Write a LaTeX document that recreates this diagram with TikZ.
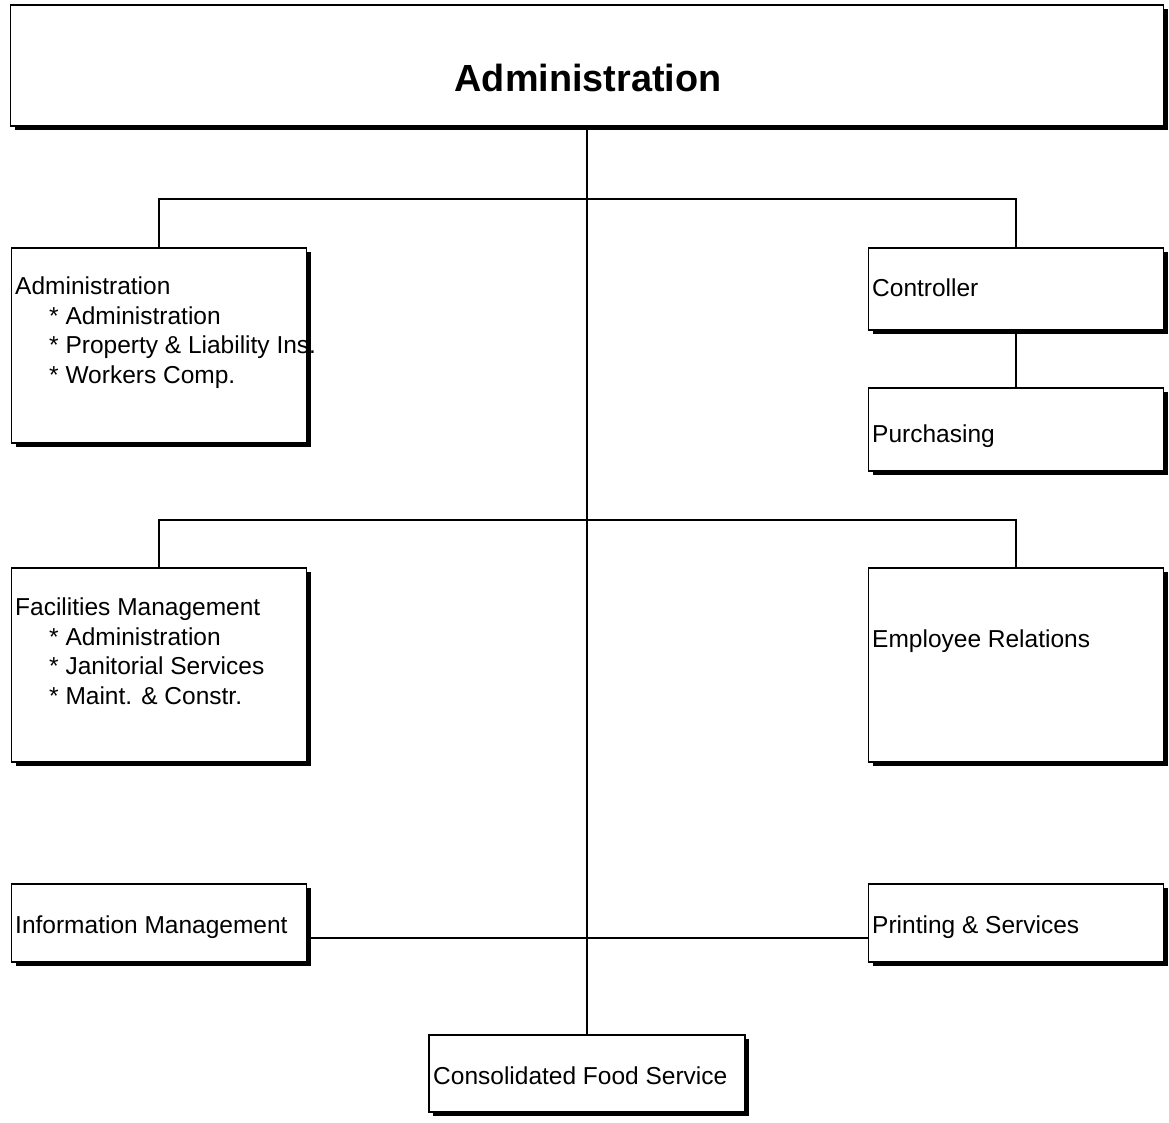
\documentclass[tikz,border=0pt]{standalone}
\usepackage{fontspec}
\setmainfont{Liberation Sans}
\usetikzlibrary{shadows}

\newcommand{\ind}{\hspace*{34pt}}

\tikzset{
  unit/.style={draw, fill=white, line width=1.8pt, inner sep=0pt,
    drop shadow={shadow xshift=4pt, shadow yshift=-4pt, fill=black, opacity=1}},
  txt/.style={inner sep=0pt, anchor=base west, align=left,
    font=\fontsize{24.5}{29.4}\selectfont},
  link/.style={line width=2.2pt}
}

\begin{document}
\begin{tikzpicture}[x=1pt, y=-1pt]
  \useasboundingbox (0,0) rectangle (1169,1122);

  % boxes
  \node[unit, minimum width=1153pt, minimum height=121pt] (top) at (587,65.5) {};
  \node[unit, minimum width=295pt, minimum height=195pt] (adm) at (159,345.5) {};
  \node[unit, minimum width=295pt, minimum height=82pt] (ctrl) at (1016,289) {};
  \node[unit, minimum width=295pt, minimum height=83pt] (purch) at (1016,429.5) {};
  \node[unit, minimum width=295pt, minimum height=194pt] (fac) at (159,665) {};
  \node[unit, minimum width=295pt, minimum height=194pt] (emp) at (1016,665) {};
  \node[unit, minimum width=295pt, minimum height=78pt] (info) at (159,923) {};
  \node[unit, minimum width=295pt, minimum height=78pt] (print) at (1016,923) {};
  \node[unit, minimum width=316pt, minimum height=77pt] (food) at (587,1073.5) {};

  % connectors
  \coordinate (j1) at (587,199);
  \coordinate (j2) at (587,520);
  \coordinate (j3) at (587,938);
  \draw[link] (top.south) -- (food.north);
  \draw[link] (adm.north) |- (j1) -| (ctrl.north);
  \draw[link] (fac.north) |- (j2) -| (emp.north);
  \draw[link] (ctrl.south) -- (purch.north);
  \draw[link] (info.east |- j3) -- (print.west |- j3);

  % texts
  \node[inner sep=0pt, anchor=base, font=\fontsize{37.8}{40}\selectfont\bfseries]
    (top-t) at (588,91) {Administration};
  \node[txt] (adm-t) at (15,383) {Administration\\
    \ind* Administration\\
    \ind* Property \& Liability Ins.\\
    \ind* Workers Comp.};
  \node[txt] (ctrl-t) at (872,296) {Controller};
  \node[txt] (purch-t) at (872,442) {Purchasing};
  \node[txt] (fac-t) at (15,704) {Facilities Management\\
    \ind* Administration\\
    \ind* Janitorial Services\\
    \ind* Maint. \& Constr.};
  \node[txt] (emp-t) at (872,647) {Employee Relations};
  \node[txt] (info-t) at (15,933) {Information Management};
  \node[txt] (print-t) at (872,933) {Printing \& Services};
  \node[txt] (food-t) at (433,1084) {Consolidated Food Service};
\end{tikzpicture}
\end{document}
